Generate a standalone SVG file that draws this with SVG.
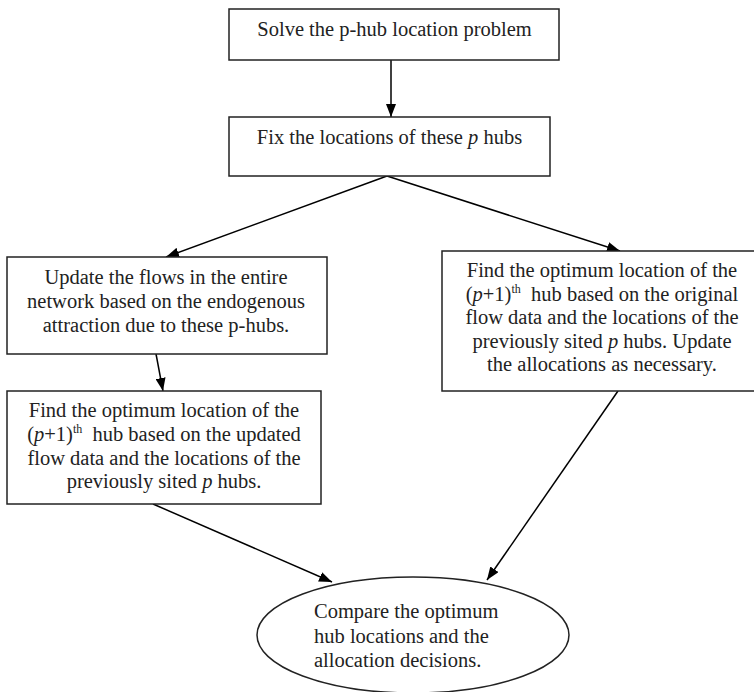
<svg xmlns="http://www.w3.org/2000/svg" width="754" height="692" viewBox="0 0 754 692">
<defs>
<marker id="ah" markerWidth="13" markerHeight="10" refX="13" refY="5" orient="auto" markerUnits="userSpaceOnUse">
<path d="M0,0 L13,5 L0,10 Z" fill="#000"/>
</marker>
<style>
.box{fill:#fff;stroke:#222;stroke-width:1.5}
.t{font-family:"Liberation Serif","Times New Roman",serif;font-size:20.5px;fill:#222}
.c{text-anchor:middle}
.sup{font-size:12px}
.i{font-style:italic}
.edge{stroke:#000;stroke-width:1.5;fill:none;marker-end:url(#ah)}
</style>
</defs>
<rect width="754" height="692" fill="#fff"/>
<g id="connectors">
<line class="edge" x1="391" y1="60" x2="391" y2="117"/>
<line class="edge" x1="387" y1="176" x2="166" y2="257"/>
<line class="edge" x1="387" y1="176" x2="620" y2="251"/>
<line class="edge" x1="156" y1="354" x2="163" y2="391"/>
<line class="edge" x1="153" y1="504" x2="332" y2="582"/>
<line class="edge" x1="618" y1="391" x2="487" y2="580"/>
</g>
<g id="n1">
<rect class="box" x="229" y="9" width="330" height="51"/>
<text class="t c" x="394.5" y="36">Solve the p-hub location problem</text>
</g>
<g id="n2">
<rect class="box" x="229" y="117" width="321" height="59"/>
<text class="t c" x="389.5" y="144">Fix the locations of these <tspan class="i">p</tspan> hubs</text>
</g>
<g id="n3">
<rect class="box" x="7" y="257" width="320" height="97"/>
<text class="t c" x="166" y="284">Update the flows in the entire</text>
<text class="t c" x="166" y="308">network based on the endogenous</text>
<text class="t c" x="166" y="332">attraction due to these p-hubs.</text>
</g>
<g id="n4">
<rect class="box" x="7" y="391" width="314" height="113"/>
<text class="t c" x="164" y="417">Find the optimum location of the</text>
<text class="t c" x="164" y="441">(<tspan class="i">p</tspan>+1)<tspan class="sup" dy="-8">th</tspan><tspan dy="8">&#160; hub based on the updated</tspan></text>
<text class="t c" x="164" y="465">flow data and the locations of the</text>
<text class="t c" x="164" y="488">previously sited <tspan class="i">p</tspan> hubs.</text>
</g>
<g id="n5">
<rect class="box" x="442" y="251" width="330" height="140"/>
<text class="t c" x="602" y="277">Find the optimum location of the</text>
<text class="t c" x="602" y="301">(<tspan class="i">p</tspan>+1)<tspan class="sup" dy="-8">th</tspan><tspan dy="8">&#160; hub based on the original</tspan></text>
<text class="t c" x="602" y="324">flow data and the locations of the</text>
<text class="t c" x="602" y="348">previously sited <tspan class="i">p</tspan> hubs. Update</text>
<text class="t c" x="602" y="371">the allocations as necessary.</text>
</g>
<g id="n6">
<ellipse class="box" cx="413" cy="635" rx="156" ry="58"/>
<text class="t" x="314" y="618">Compare the optimum</text>
<text class="t" x="314" y="642.5">hub locations and the</text>
<text class="t" x="314" y="667">allocation decisions.</text>
</g>
</svg>
